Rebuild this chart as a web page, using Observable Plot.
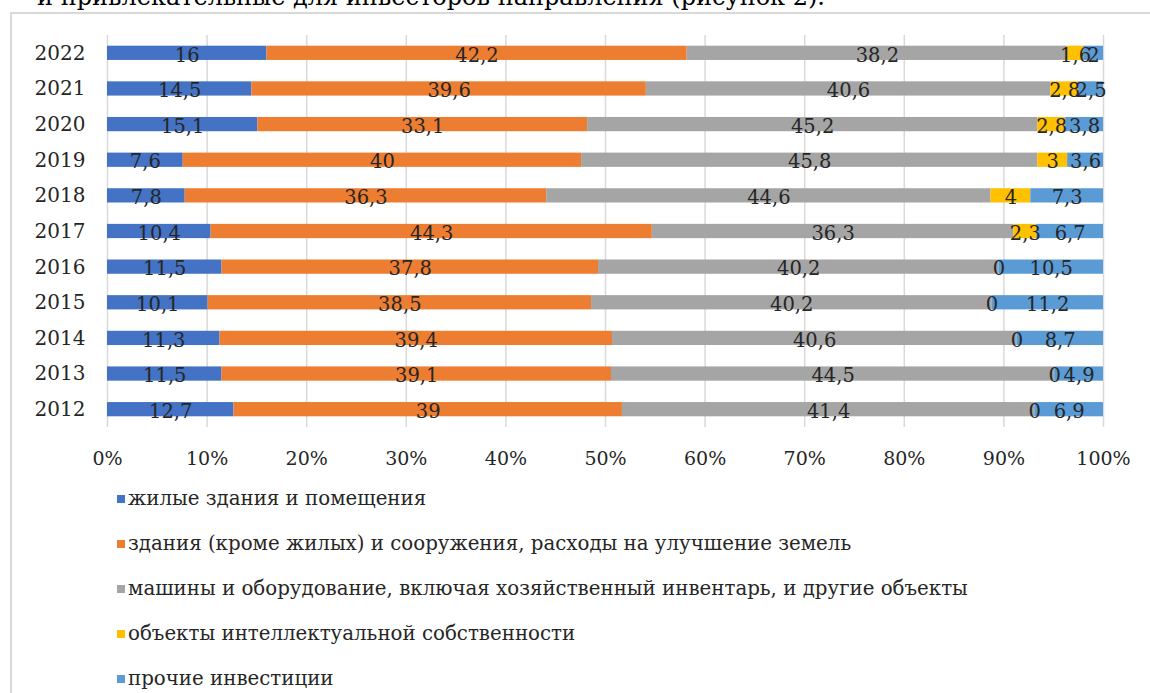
<!DOCTYPE html>
<html>
<head>
<meta charset="utf-8">
<script src="https://cdn.jsdelivr.net/npm/d3@7"></script>
<script src="https://cdn.jsdelivr.net/npm/@observablehq/plot@0.6"></script>
<style>
  html, body { margin: 0; padding: 0; background: #fff; }
  #page { position: relative; width: 1150px; height: 693px; overflow: hidden; font-family: "DejaVu Serif", serif; }
  #intro { position: absolute; right: 325px; top: -18px; font-size: 24px; line-height: 30px; color: #000; white-space: nowrap; font-family: "DejaVu Serif", serif; }
  #frame { position: absolute; left: 10px; top: 12px; width: 1160px; height: 700px; border: 2px solid #d9d9d9; box-sizing: border-box; }
  #chart { position: absolute; left: 0; top: 0; }
  #legend { position: absolute; left: 117px; top: 476px; }
  .li { height: 45px; display: flex; align-items: center; font-size: 19.8px; color: #262626; }
  .sw { width: 8px; height: 8px; margin-right: 3px; }
</style>
</head>
<body>
<div id="page">
  <div id="intro">и привлекательные для инвесторов направления (рисунок 2).</div>
  <div id="frame"></div>
  <div id="chart"></div>
  <div id="legend"></div>
</div>
<script>
const years = ["2022","2021","2020","2019","2018","2017","2016","2015","2014","2013","2012"];
const categories = [
  "жилые здания и помещения",
  "здания (кроме жилых) и  сооружения, расходы на улучшение земель",
  "машины и оборудование, включая хозяйственный инвентарь, и другие объекты",
  "объекты интеллектуальной собственности",
  "прочие инвестиции"
];
const colors = ["#4472C4", "#ED7D31", "#A5A5A5", "#FFC000", "#5B9BD5"];
const residential =    [16, 14.5, 15.1, 7.6, 7.8, 10.4, 11.5, 10.1, 11.3, 11.5, 12.7];
const nonResidential = [42.2, 39.6, 33.1, 40, 36.3, 44.3, 37.8, 38.5, 39.4, 39.1, 39];
const machinery =      [38.2, 40.6, 45.2, 45.8, 44.6, 36.3, 40.2, 40.2, 40.6, 44.5, 41.4];
const intellectual =   [1.6, 2.8, 2.8, 3, 4, 2.3, 0, 0, 0, 0, 0];
const other =          [2, 2.5, 3.8, 3.6, 7.3, 6.7, 10.5, 11.2, 8.7, 4.9, 6.9];
const xTicks = [0,10,20,30,40,50,60,70,80,90,100];

const series = [residential, nonResidential, machinery, intellectual, other];
const data = [];
years.forEach((y, i) => {
  categories.forEach((c, j) => {
    data.push({year: y, cat: c, value: series[j][i]});
  });
});

const fmt = v => String(v).replace(".", ",");

const chart = Plot.plot({
  width: 1150,
  height: 480,
  marginLeft: 107,
  marginRight: 47,
  marginTop: 35,
  marginBottom: 53,
  style: { fontFamily: "'DejaVu Serif', serif", background: "transparent", color: "#262626" },
  x: { domain: [0, 100], ticks: xTicks, tickFormat: d => d + "%", label: null, grid: false },
  y: { domain: years, paddingInner: 0.6, paddingOuter: 0.3, round: false, label: null },
  color: { domain: categories, range: colors },
  marks: [
    Plot.ruleX(xTicks, { x: d => d, stroke: "#d9d9d9", strokeWidth: 1.5 }),
    Plot.barX(data, { x: "value", y: "year", fill: "cat", z: "cat" }),
    Plot.text(data, Plot.stackX({ x: "value", y: "year", z: "cat", text: d => fmt(d.value), fill: "#262626", fontSize: 19.5, dy: 2 })),
    Plot.axisX({ ticks: xTicks, tickFormat: d => d + "%", tickSize: 0, tickPadding: 24, fontSize: 19, label: null }),
    Plot.axisY({ tickSize: 0, tickPadding: 22, fontSize: 20, label: null })
  ]
});
document.getElementById("chart").appendChild(chart);

const legend = document.getElementById("legend");
categories.forEach((c, j) => {
  const row = document.createElement("div");
  row.className = "li";
  const sw = document.createElement("span");
  sw.className = "sw";
  sw.style.background = colors[j];
  const t = document.createElement("span");
  t.textContent = c;
  row.appendChild(sw);
  row.appendChild(t);
  legend.appendChild(row);
});
</script>
</body>
</html>
